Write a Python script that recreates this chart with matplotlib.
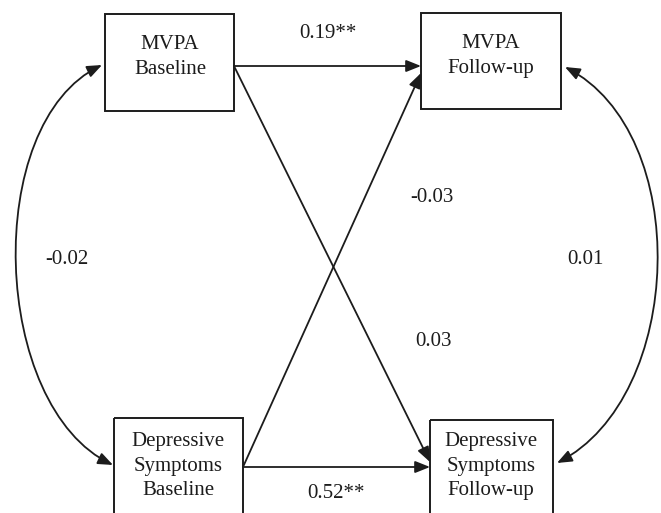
import matplotlib
matplotlib.use("Agg")
import matplotlib.pyplot as plt
from matplotlib.patches import Rectangle, FancyArrowPatch
from matplotlib.path import Path

# Nodes of the cross-lagged panel model
node_names = ["mvpa_base", "mvpa_follow", "dep_base", "dep_follow"]
node_labels = ["MVPA\nBaseline", "MVPA\nFollow-up",
               "Depressive\nSymptoms\nBaseline", "Depressive\nSymptoms\nFollow-up"]

# Path coefficients (as printed)
path_from = ["mvpa_base", "dep_base", "mvpa_base", "dep_base"]
path_to = ["mvpa_follow", "dep_follow", "dep_follow", "mvpa_follow"]
path_coefs = ["0.19**", "0.52**", "0.03", "-0.03"]

# Covariances (curved double arrows)
cov_labels = ["-0.02", "0.01"]

# ---- layout (pixels, y downwards) ----
boxes = {
    "mvpa_base": (105, 14, 129, 97),
    "mvpa_follow": (421, 13, 140, 96),
    "dep_base": (114, 418, 129, 130),
    "dep_follow": (430, 420, 123, 130),
}
text_pos = {
    "mvpa_base": (170, 57),
    "mvpa_follow": (491, 56),
    "dep_base": (178, 466),
    "dep_follow": (491, 466),
}
arrow_ends = {
    ("mvpa_base", "mvpa_follow"): ((234, 66), (421, 66)),
    ("dep_base", "dep_follow"): ((243, 467), (430, 467)),
    ("mvpa_base", "dep_follow"): ((234, 66), (430, 462)),
    ("dep_base", "mvpa_follow"): ((243, 467), (421, 73)),
}
coef_pos = [(328, 34), (336, 494), (433, 341), (432, 197)]
cov_paths = [
    [(102, 65), (-19, 123), (-9, 407), (113, 465)],
    [(565, 67), (693, 133), (685, 397), (557, 463)],
]
cov_pos = [(67, 259), (585, 260)]

ink = "#1c1c1c"
font = dict(family="Liberation Serif", size=15, color=ink)
head = "-|>,head_length=0.9,head_width=0.36"
head2 = "<|-|>,head_length=0.9,head_width=0.36"

fig = plt.figure(figsize=(6.61, 5.13), dpi=100)
ax = fig.add_axes([0, 0, 1, 1])
ax.set_xlim(0, 661)
ax.set_ylim(513, 0)
ax.axis("off")

for name, label in zip(node_names, node_labels):
    x, y, w, h = boxes[name]
    ax.add_patch(Rectangle((x, y), w, h, fill=False, edgecolor=ink, lw=1.4))
    tx, ty = text_pos[name]
    ax.text(tx, ty, label, ha="center", va="center", linespacing=1.4, **font)

for a, b, coef, pos in zip(path_from, path_to, path_coefs, coef_pos):
    start, end = arrow_ends[(a, b)]
    ax.add_patch(FancyArrowPatch(start, end, arrowstyle=head, mutation_scale=10,
                                 shrinkA=0, shrinkB=0, color=ink, lw=1.3))
    ax.text(pos[0], pos[1], coef, ha="center", va="center", **font)

for verts, lab, pos in zip(cov_paths, cov_labels, cov_pos):
    p = Path(verts, [Path.MOVETO, Path.CURVE4, Path.CURVE4, Path.CURVE4])
    ax.add_patch(FancyArrowPatch(path=p, arrowstyle=head2,
                                 mutation_scale=10, color=ink, lw=1.3))
    ax.text(pos[0], pos[1], lab, ha="center", va="center", **font)

fig.savefig("out.png", dpi=100)
